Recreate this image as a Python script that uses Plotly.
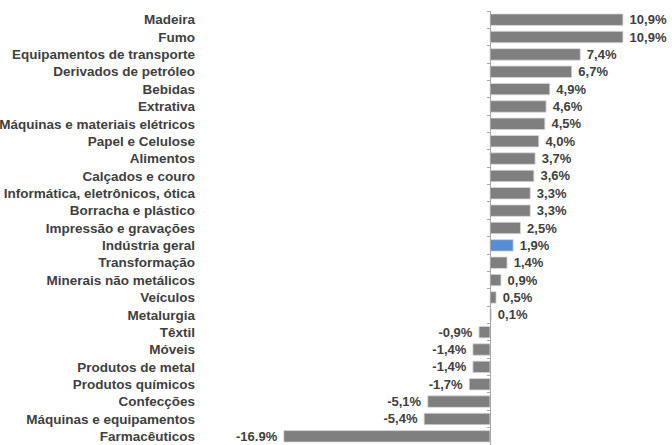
import plotly.graph_objects as go

# Sectors, top to bottom
setores = [
    "Madeira", "Fumo", "Equipamentos de transporte", "Derivados de petróleo",
    "Bebidas", "Extrativa", "Máquinas e materiais elétricos", "Papel e Celulose",
    "Alimentos", "Calçados e couro", "Informática, eletrônicos, ótica",
    "Borracha e plástico", "Impressão e gravações", "Indústria geral",
    "Transformação", "Minerais não metálicos", "Veículos", "Metalurgia",
    "Têxtil", "Móveis", "Produtos de metal", "Produtos químicos",
    "Confecções", "Máquinas e equipamentos", "Farmacêuticos",
]
variacao = [
    10.9, 10.9, 7.4, 6.7, 4.9, 4.6, 4.5, 4.0, 3.7, 3.6, 3.3, 3.3, 2.5, 1.9,
    1.4, 0.9, 0.5, 0.1, -0.9, -1.4, -1.4, -1.7, -5.1, -5.4, -16.9,
]
rotulos = [
    "10,9%", "10,9%", "7,4%", "6,7%", "4,9%", "4,6%", "4,5%", "4,0%", "3,7%",
    "3,6%", "3,3%", "3,3%", "2,5%", "1,9%", "1,4%", "0,9%", "0,5%", "0,1%",
    "-0,9%", "-1,4%", "-1,4%", "-1,7%", "-5,1%", "-5,4%", "-16.9%",
]
destaque = "Indústria geral"

CINZA = "#7f7f7f"
AZUL = "#558ed5"
TEXTO = "#404040"
EIXO = "#a6a6a6"
FONTE = "Arial, Liberation Sans, sans-serif"

cores = [AZUL if s == destaque else CINZA for s in setores]
textos = [("\u00a0" + r) if v >= 0 else (r + "\u00a0") for r, v in zip(rotulos, variacao)]
n = len(setores)

fig = go.Figure()
fig.add_trace(
    go.Bar(
        x=variacao,
        y=setores,
        orientation="h",
        marker=dict(color=cores, line=dict(color="#d9d9d9", width=0.8)),
        text=textos,
        textposition="outside",
        textfont=dict(family=FONTE, size=13, color=TEXTO, weight="bold"),
        cliponaxis=False,
        constraintext="none",
        hoverinfo="skip",
    )
)
# transparent companion trace so the zero-position category axis gets drawn
fig.add_trace(
    go.Scatter(
        x=variacao,
        y=list(range(n)),
        yaxis="y2",
        mode="markers",
        marker=dict(opacity=0),
        hoverinfo="skip",
        showlegend=False,
    )
)

fig.update_layout(
    width=672,
    height=445,
    margin=dict(l=200, r=0, t=11, b=0),
    paper_bgcolor="white",
    plot_bgcolor="white",
    showlegend=False,
    bargap=0.34,
    xaxis=dict(
        range=[-23.77, 14.92],
        visible=False,
        fixedrange=True,
    ),
    yaxis=dict(
        categoryorder="array",
        categoryarray=setores,
        range=[n - 0.5, -0.5],
        showline=False,
        showgrid=False,
        zeroline=False,
        ticks="",
        ticklabelstandoff=4,
        tickfont=dict(family=FONTE, size=13.5, color=TEXTO, weight="bold"),
    ),
    # category axis line drawn at x = 0 with tick marks between the bars
    yaxis2=dict(
        overlaying="y",
        anchor="free",
        position=23.77 / (23.77 + 14.92),
        side="left",
        range=[n - 0.5, -0.5],
        tickmode="array",
        tickvals=[i - 0.5 for i in range(n + 1)],
        ticks="outside",
        ticklen=3,
        tickcolor=EIXO,
        showline=True,
        linecolor=EIXO,
        linewidth=1,
        showticklabels=False,
        showgrid=False,
        zeroline=False,
    ),
)

fig.write_html("out.html")
